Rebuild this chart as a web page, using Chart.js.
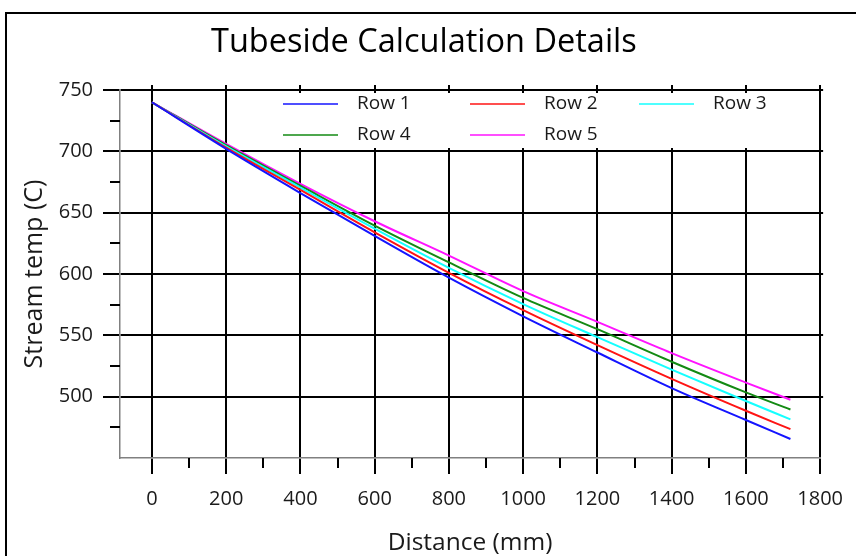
<!DOCTYPE html>
<html>
<head>
<meta charset="utf-8">
<title>Tubeside Calculation Details</title>
<script src="https://cdn.jsdelivr.net/npm/chart.js@4.4.1/dist/chart.umd.min.js"></script>
<style>
  html, body { margin: 0; padding: 0; background: #fff; overflow: hidden; }
  #frame { position: absolute; left: 5px; top: 12px; width: 900px; height: 600px; border: 2px solid #000; }
  #wrap { position: absolute; left: 0; top: 0; width: 856px; height: 556px; }
</style>
</head>
<body>
<div id="frame"></div>
<div id="wrap"><canvas id="chart" width="856" height="556"></canvas></div>
<script>
const distances = [0, 200, 400, 600, 800, 1000, 1200, 1400, 1600, 1720];
const row1 = [740, 702, 666, 631, 597, 565.5, 536, 507, 481, 465.5];
const row2 = [740, 703, 668.5, 634, 601, 570.5, 542, 514.5, 488.5, 473.5];
const row3 = [740, 704, 670.5, 637, 605, 575.5, 548.5, 522, 496.5, 481.5];
const row4 = [740, 705, 672, 639.5, 609.5, 580.5, 555, 528.5, 503.5, 489.5];
const row5 = [740, 706, 673.5, 643, 615, 586, 561, 535.5, 511.5, 497.5];
const seriesNames = ['Row 1', 'Row 2', 'Row 3', 'Row 4', 'Row 5'];
const seriesColors = ['#1414ff', '#ff1414', '#14ffff', '#138a13', '#ff14ff'];

const xMajorTicks = [0, 200, 400, 600, 800, 1000, 1200, 1400, 1600, 1800];
const xMinorTicks = [100, 300, 500, 700, 900, 1100, 1300, 1500, 1700];
const yMajorTicks = [500, 550, 600, 650, 700, 750];
const yMinorTicks = [475, 525, 575, 625, 675, 725];

const chartTitle = 'Tubeside Calculation Details';
const FONT = "'Open Sans', 'Noto Sans', sans-serif";
const rows = [row1, row2, row3, row4, row5];

// title, minor ticks, small overhangs and the boxed legend
const extras = {
  id: 'extras',
  afterDraw(chart) {
    const { ctx, chartArea: a, scales: { x, y } } = chart;
    ctx.save();
    ctx.fillStyle = '#000';
    ctx.font = '32.5px ' + FONT;
    ctx.textAlign = 'left';
    ctx.textBaseline = 'alphabetic';
    ctx.fillText(chartTitle, 211, 52);

    ctx.strokeStyle = '#000';
    ctx.lineWidth = 2;
    ctx.beginPath();
    xMinorTicks.forEach((v) => {
      const px = Math.round(x.getPixelForValue(v));
      ctx.moveTo(px, a.bottom);
      ctx.lineTo(px, a.bottom + 10);
    });
    yMinorTicks.forEach((v) => {
      const py = Math.round(y.getPixelForValue(v));
      ctx.moveTo(a.left - 10, py);
      ctx.lineTo(a.left, py);
    });
    xMajorTicks.forEach((v) => {
      const px = Math.round(x.getPixelForValue(v));
      ctx.moveTo(px, a.top - 5);
      ctx.lineTo(px, a.top);
    });
    yMajorTicks.forEach((v) => {
      const py = Math.round(y.getPixelForValue(v));
      ctx.moveTo(a.right, py);
      ctx.lineTo(a.right + 3, py);
    });
    ctx.stroke();

    // legend
    ctx.fillStyle = '#fff';
    ctx.fillRect(275, 93, 512, 55);
    const cols = [283, 470, 639];
    const lines = [104, 135];
    ctx.font = '19px ' + FONT;
    ctx.textBaseline = 'middle';
    chart.data.datasets.forEach((ds, i) => {
      const cx = cols[i % 3];
      const cy = lines[Math.floor(i / 3)];
      ctx.strokeStyle = ds.borderColor;
      ctx.lineWidth = 1.5;
      ctx.beginPath();
      ctx.moveTo(cx, cy);
      ctx.lineTo(cx + 55, cy);
      ctx.stroke();
      ctx.fillStyle = '#1a1a1a';
      ctx.fillText(ds.label, cx + 74, cy);
    });
    ctx.restore();
  }
};

const chart = new Chart(document.getElementById('chart'), {
  type: 'line',
  data: {
    datasets: rows.map((r, i) => ({
      label: seriesNames[i],
      data: r.map((v, j) => ({ x: distances[j], y: v })),
      borderColor: seriesColors[i],
      backgroundColor: seriesColors[i],
      borderWidth: 2,
      pointRadius: 0,
      cubicInterpolationMode: 'monotone',
      fill: false
    }))
  },
  options: {
    responsive: false,
    animation: false,
    layout: { padding: { left: 0, right: 34, top: 90, bottom: 0 } },
    plugins: {
      legend: { display: false },
      tooltip: { enabled: false },
      title: { display: false }
    },
    scales: {
      x: {
        type: 'linear',
        min: -86,
        max: 1800,
        afterBuildTicks: (scale) => { scale.ticks = xMajorTicks.map((v) => ({ value: v })); },
        afterFit: (scale) => { scale.height = 98; },
        grid: { color: '#000', lineWidth: 2, tickLength: 16, tickColor: '#000' },
        border: { display: true, color: '#808080', width: 1.5 },
        ticks: {
          color: '#1a1a1a',
          font: { family: FONT, size: 20 },
          padding: 13,
          autoSkip: false,
          maxRotation: 0,
          callback: (v) => String(v)
        },
        title: {
          display: true,
          text: 'Distance (mm)',
          color: '#1a1a1a',
          font: { family: FONT, size: 24.5 },
          padding: { top: 0, bottom: -2 }
        }
      },
      y: {
        min: 450,
        max: 750,
        afterBuildTicks: (scale) => { scale.ticks = yMajorTicks.map((v) => ({ value: v })); },
        afterFit: (scale) => { scale.width = 120; },
        grid: { color: '#000', lineWidth: 2, tickLength: 17, tickColor: '#000' },
        border: { display: true, color: '#808080', width: 1.5 },
        ticks: {
          color: '#1a1a1a',
          font: { family: FONT, size: 20 },
          padding: 10,
          callback: (v) => String(v)
        },
        title: {
          display: true,
          text: 'Stream temp (C)',
          color: '#1a1a1a',
          font: { family: FONT, size: 25 },
          padding: { top: 20, bottom: 0 }
        }
      }
    }
  },
  plugins: [extras]
});
</script>
</body>
</html>
